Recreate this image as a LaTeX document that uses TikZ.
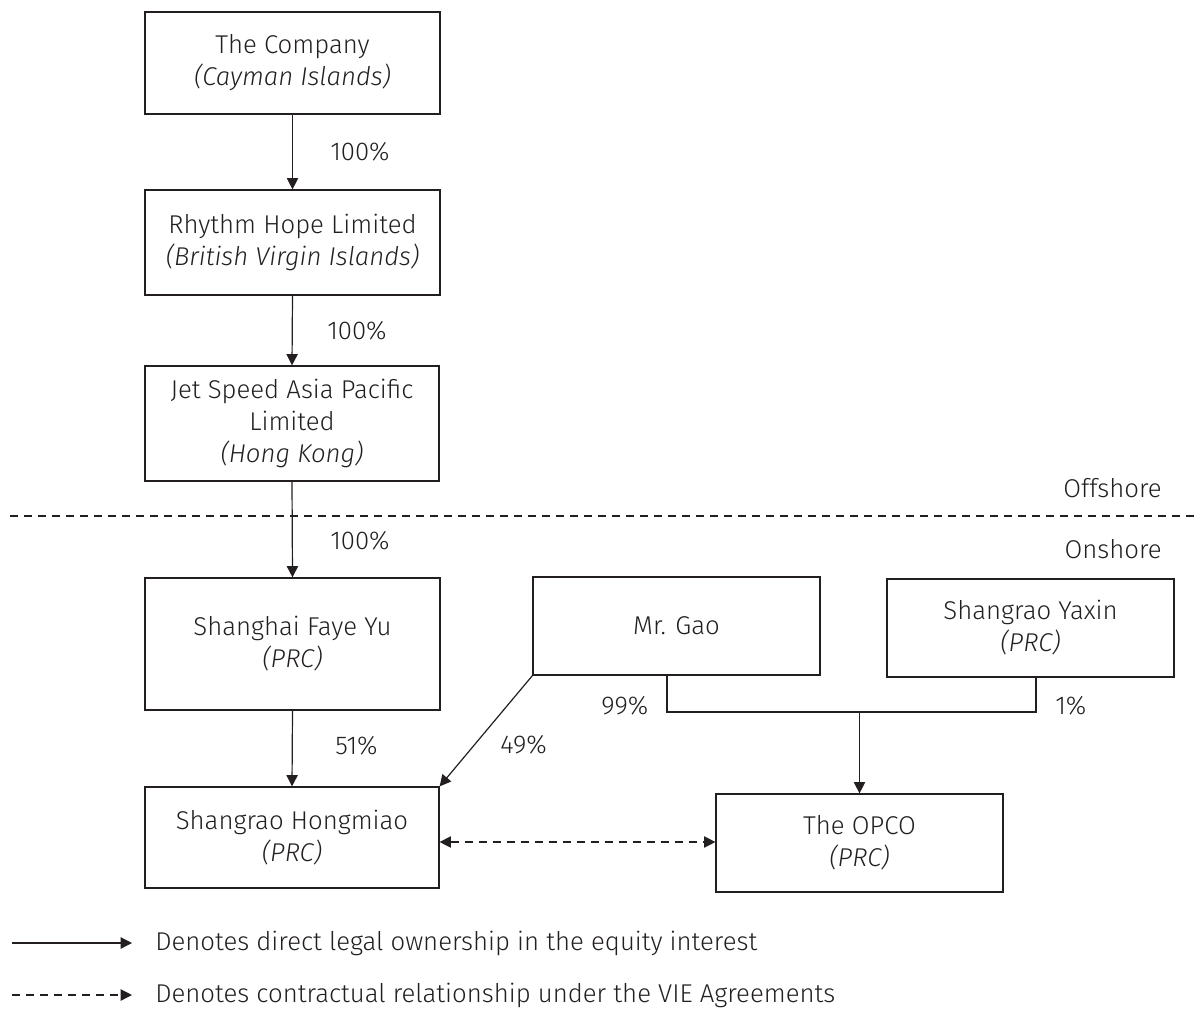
\documentclass[tikz,border=0pt]{standalone}
\usepackage{fontspec}
\setmainfont{Fira Sans Light}[ItalicFont={Fira Sans Light Italic}]
\usetikzlibrary{arrows.meta}
\definecolor{ink}{HTML}{231F20}
\begin{document}
\begin{tikzpicture}[x=0.75pt,y=-0.75pt,
  every node/.style={text=ink, font=\fontsize{19.3}{24}\selectfont},
  box/.style={draw=ink, line width=0.9pt, align=center, inner sep=0pt},
  tip/.style={Triangle[length=8.5pt,width=8.5pt]},
  own/.style={draw=ink, line width=0.9pt, -{Triangle[length=8.5pt,width=8.5pt]}},
  vie/.style={draw=ink, line width=0.9pt, dash pattern=on 6pt off 4.5pt},
  pct/.style={anchor=west, inner sep=0pt}]
\useasboundingbox (0,0) rectangle (1195,1010);
% boxes
\node[box, minimum width=221.25pt, minimum height=76.5pt] (comp) at (292.5,63) {The Company\\\textit{(Cayman Islands)}};
\node[box, minimum width=221.25pt, minimum height=78.75pt] (rhythm) at (292.5,242.5) {Rhythm Hope Limited\\\textit{(British Virgin Islands)}};
\node[box, minimum width=220.5pt, minimum height=86.25pt] (jet) at (292,423.5) {Jet Speed Asia Pacific\\Limited\\\textit{(Hong Kong)}};
\node[box, minimum width=221.25pt, minimum height=99pt] (faye) at (292.5,644) {Shanghai Faye Yu\\\textit{(PRC)}};
\node[box, minimum width=220.5pt, minimum height=75.75pt] (hong) at (292,837.5) {Shangrao Hongmiao\\\textit{(PRC)}};
\node[box, minimum width=215.25pt, minimum height=73.5pt] (gao) at (676.5,626) {Mr. Gao};
\node[box, minimum width=215.25pt, minimum height=73.5pt] (yaxin) at (1030.5,628) {Shangrao Yaxin\\\textit{(PRC)}};
\node[box, minimum width=215.25pt, minimum height=73.5pt] (opco) at (859.5,843) {The OPCO\\\textit{(PRC)}};
% offshore / onshore
\draw[vie] (10,516) -- (1195,516);
\node[anchor=east, inner sep=0pt] (off) at (1162,488) {Offshore};
\node[anchor=east, inner sep=0pt] (on) at (1162,549) {Onshore};
% ownership arrows
\draw[own] (comp.south) -- (rhythm.north);
\draw[own] (rhythm.south) -- (jet.north);
\draw[own] (jet.south) -- (faye.north);
\draw[own] (faye.south) -- (hong.north);
\draw[own] (gao.south west) -- (hong.north east);
\coordinate (j1) at (667,712);
\coordinate (j2) at (1036,712);
\coordinate (jm) at (opco.north |- j1);
\draw[draw=ink, line width=0.9pt] (gao.south -| j1) -- (j1) -- (j2) -- (yaxin.south -| j2);
\draw[own] (jm) -- (opco.north);
\draw[vie, {Triangle[length=8.5pt,width=8.5pt]}-{Triangle[length=8.5pt,width=8.5pt]}] (hong.east |- 0,842) -- (opco.west |- 0,842);
% percentages
\node[pct] (p1) at (330,152) {100\%};
\node[pct] (p2) at (327,331) {100\%};
\node[pct] (p3) at (330,541) {100\%};
\node[pct] (p4) at (335,746) {51\%};
\node[pct] (p5) at (500,745) {49\%};
\node[pct] (p6) at (601,706) {99\%};
\node[pct] (p7) at (1055,706) {1\%};
% legend
\coordinate (la) at (12,943);
\coordinate (lb) at (132,943);
\coordinate (lc) at (12,995);
\coordinate (ld) at (132,995);
\draw[own] (la) -- (lb);
\draw[vie, -{Triangle[length=8.5pt,width=8.5pt]}] (lc) -- (ld);
\node[anchor=west, inner sep=0pt] (t1) at (155,943) {Denotes direct legal ownership in the equity interest};
\node[anchor=west, inner sep=0pt] (t2) at (155,995) {Denotes contractual relationship under the VIE Agreements};
\end{tikzpicture}
\end{document}
